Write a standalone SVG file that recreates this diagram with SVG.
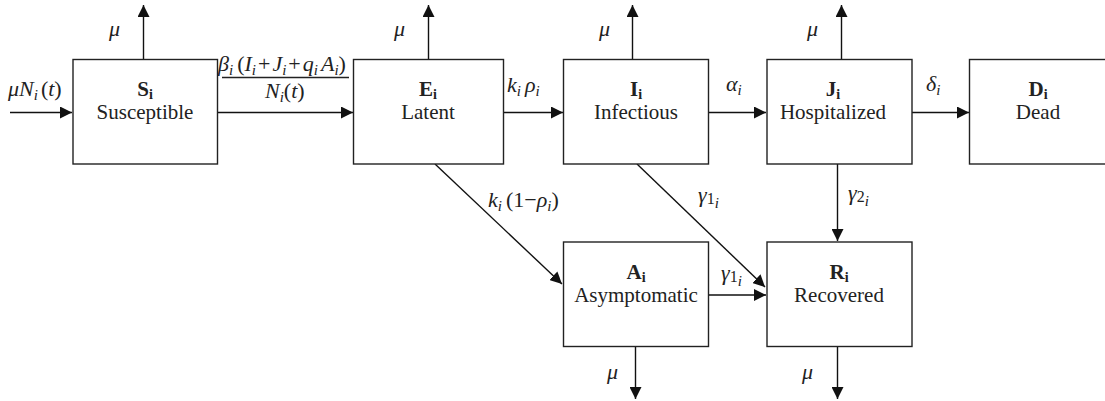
<svg xmlns="http://www.w3.org/2000/svg" width="1105" height="401" viewBox="0 0 1105 401">
<defs>
<marker id="ah" markerUnits="userSpaceOnUse" markerWidth="12" markerHeight="12" refX="12" refY="6" orient="auto">
<path d="M0,0 L12,6 L0,12 z" fill="#111"/>
</marker>
<style>
.box{fill:#fff;stroke:#222;stroke-width:1.4}
.ln{fill:none;stroke:#111;stroke-width:1.4;marker-end:url(#ah)}
text{font-family:'Liberation Serif','Times New Roman',Times,serif;fill:#222}
.t{font-size:21px;text-anchor:middle}
.b{font-weight:bold}
.sb{font-size:14px;font-weight:bold}
.m{font-size:22px}
.it{font-style:italic}
.s{font-size:15px;font-style:italic}
.n{font-size:16px}
</style>
</defs>
<rect width="1105" height="401" fill="#fff"/>
<g id="connectors">
<line class="ln" x1="10" y1="112.5" x2="72" y2="112.5"/>
<line class="ln" x1="217" y1="112.5" x2="353" y2="112.5"/>
<line class="ln" x1="503" y1="112.5" x2="563" y2="112.5"/>
<line class="ln" x1="708" y1="112.5" x2="766" y2="112.5"/>
<line class="ln" x1="912" y1="112.5" x2="969" y2="112.5"/>
<line class="ln" x1="143.5" y1="59" x2="143.5" y2="5"/>
<line class="ln" x1="428.5" y1="59" x2="428.5" y2="5"/>
<line class="ln" x1="632.5" y1="59" x2="632.5" y2="5"/>
<line class="ln" x1="841.5" y1="59" x2="841.5" y2="5"/>
<line class="ln" x1="837.5" y1="164" x2="837.5" y2="241"/>
<line class="ln" x1="435" y1="164" x2="562" y2="284"/>
<line class="ln" x1="637" y1="164" x2="765" y2="287"/>
<line class="ln" x1="708" y1="295" x2="766" y2="295"/>
<line class="ln" x1="635.5" y1="347" x2="635.5" y2="399"/>
<line class="ln" x1="837.5" y1="347" x2="837.5" y2="399"/>
<line x1="222" y1="77.5" x2="349" y2="77.5" stroke="#222" stroke-width="1.4"/>
</g>
<g id="labels">
<text class="m it" x="109" y="36">μ</text>
<text class="m it" x="394" y="36">μ</text>
<text class="m it" x="599" y="36">μ</text>
<text class="m it" x="807" y="36">μ</text>
<text class="m it" x="607" y="379">μ</text>
<text class="m it" x="802" y="379">μ</text>
<text class="m" x="8" y="96"><tspan class="it">μN</tspan><tspan class="s" dy="4">i</tspan><tspan dy="-4" dx="3">(</tspan><tspan class="it">t</tspan>)</text>
<text class="m" x="218" y="71"><tspan class="it">β</tspan><tspan class="s" dy="4">i</tspan><tspan dy="-4" dx="4">(</tspan><tspan class="it">I</tspan><tspan class="s" dy="4">i</tspan><tspan dy="-4" dx="2">+</tspan><tspan class="it" dx="2">J</tspan><tspan class="s" dy="4">i</tspan><tspan dy="-4" dx="2">+</tspan><tspan class="it" dx="2">q</tspan><tspan class="s" dy="4">i</tspan><tspan class="it" dy="-4" dx="3">A</tspan><tspan class="s" dy="4">i</tspan><tspan dy="-4">)</tspan></text>
<text class="m" x="265" y="98"><tspan class="it">N</tspan><tspan class="s" dy="4">i</tspan><tspan dy="-4">(</tspan><tspan class="it">t</tspan>)</text>
<text class="m" x="507" y="92"><tspan class="it">k</tspan><tspan class="s" dy="4">i</tspan><tspan class="it" dy="-4" dx="4">ρ</tspan><tspan class="s" dy="4">i</tspan></text>
<text class="m" x="726" y="91"><tspan class="it">α</tspan><tspan class="s" dy="4">i</tspan></text>
<text class="m" x="926" y="91"><tspan class="it">δ</tspan><tspan class="s" dy="4">i</tspan></text>
<text class="m" x="848" y="200"><tspan class="it">γ</tspan><tspan class="n" dy="2">2</tspan><tspan class="s" dy="4">i</tspan></text>
<text class="m" x="698" y="202"><tspan class="it">γ</tspan><tspan class="n" dy="2">1</tspan><tspan class="s" dy="4">i</tspan></text>
<text class="m" x="721" y="280"><tspan class="it">γ</tspan><tspan class="n" dy="2">1</tspan><tspan class="s" dy="4">i</tspan></text>
<text class="m" x="488" y="207"><tspan class="it">k</tspan><tspan class="s" dy="4">i</tspan><tspan dy="-4" dx="4">(1−</tspan><tspan class="it">ρ</tspan><tspan class="s" dy="4">i</tspan><tspan dy="-4">)</tspan></text>
</g>
<g id="node-S">
<rect class="box" x="73" y="59.5" width="144.5" height="104.5"/>
<text class="t" x="145" y="96"><tspan class="b">S</tspan><tspan class="sb" dy="3">i</tspan></text>
<text class="t" x="145" y="119">Susceptible</text>
</g>
<g id="node-E">
<rect class="box" x="353.5" y="59.5" width="150" height="104.5"/>
<text class="t" x="428" y="96"><tspan class="b">E</tspan><tspan class="sb" dy="3">i</tspan></text>
<text class="t" x="428" y="119">Latent</text>
</g>
<g id="node-I">
<rect class="box" x="563.5" y="59.5" width="145" height="104.5"/>
<text class="t" x="636" y="96"><tspan class="b">I</tspan><tspan class="sb" dy="3">i</tspan></text>
<text class="t" x="636" y="119">Infectious</text>
</g>
<g id="node-J">
<rect class="box" x="767" y="59.5" width="145" height="104.5"/>
<text class="t" x="833" y="96"><tspan class="b">J</tspan><tspan class="sb" dy="3">i</tspan></text>
<text class="t" x="833" y="119">Hospitalized</text>
</g>
<g id="node-D">
<rect class="box" x="969.5" y="59.5" width="145" height="104.5"/>
<text class="t" x="1038" y="96"><tspan class="b">D</tspan><tspan class="sb" dy="3">i</tspan></text>
<text class="t" x="1038" y="119">Dead</text>
</g>
<g id="node-A">
<rect class="box" x="563.5" y="242" width="145" height="104.5"/>
<text class="t" x="636" y="279"><tspan class="b">A</tspan><tspan class="sb" dy="3">i</tspan></text>
<text class="t" x="636" y="302">Asymptomatic</text>
</g>
<g id="node-R">
<rect class="box" x="767" y="242" width="145" height="104.5"/>
<text class="t" x="839" y="279"><tspan class="b">R</tspan><tspan class="sb" dy="3">i</tspan></text>
<text class="t" x="839" y="302">Recovered</text>
</g>
</svg>
